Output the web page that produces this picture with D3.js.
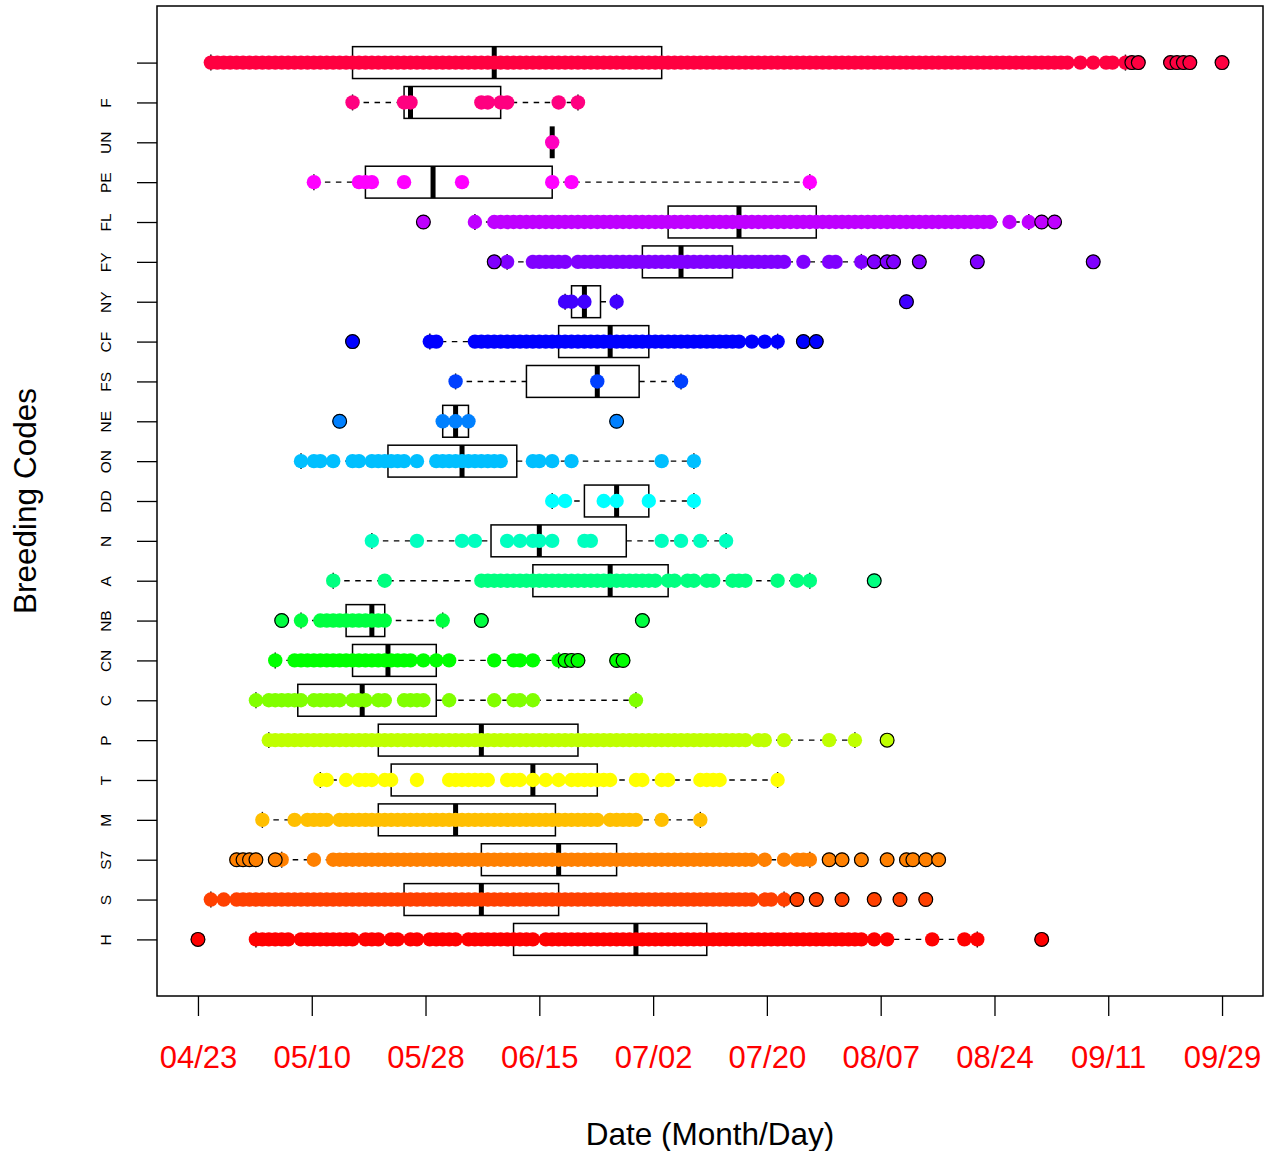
<!DOCTYPE html>
<html>
<head>
<meta charset="utf-8">
<script src="https://cdn.jsdelivr.net/npm/d3@7"></script>
<style>
  body { margin: 0; background: #fff; }
  svg text { font-family: "Liberation Sans", Arial, Helvetica, sans-serif; }
</style>
</head>
<body>
<svg id="chart" width="1276" height="1151"></svg>
<script>
// Breeding codes, bottom row first
const codes = ["H", "S", "S7", "M", "T", "P", "C", "CN", "NB", "A", "N", "DD", "ON", "NE", "FS", "CF", "NY", "FY", "FL", "PE", "UN", "F", ""]
const colors = ["#FF0000", "#FF4000", "#FF8000", "#FFBF00", "#FFFF00", "#BFFF00", "#80FF00", "#00FF00", "#00FF40", "#00FF80",
  "#00FFBF", "#00FFFF", "#00BFFF", "#0080FF", "#0040FF", "#0000FF", "#4000FF", "#8000FF", "#BF00FF", "#FF00FF",
  "#FF00BF", "#FF0080", "#FF0040"]

// boxplot stats (day of year)
const whiskLow  = [122, 115, 126, 123, 132, 124, 122, 125, 129, 134, 140, 168, 129, 151, 153, 149, 170, 161, 156, 131, 168, 137, 115]
const q1        = [162, 145, 157, 141, 143, 141, 128.5, 137, 136, 165, 158.5, 173, 142.5, 151, 164, 169, 171, 182, 186, 139, 168, 145, 137]
const medians   = [181, 157, 169, 153, 165, 157, 138.5, 142.5, 140, 177, 166, 178, 154, 153, 175, 177, 173, 188, 197, 149.5, 168, 146, 159]
const q3        = [192, 169, 178, 168.5, 175, 172, 150, 150, 142, 186, 179.5, 183, 162.5, 155, 181.5, 183, 175.5, 196, 209, 168, 168, 160, 185]
const whiskHigh = [234, 204, 208, 191, 203, 215, 181, 169, 151, 208, 195, 190, 190, 155, 188, 203, 178, 216, 242, 208, 168, 172, 257]

const outliers = [
  [113, 244],
  [206, 209, 213, 218, 222, 226],
  [119, 120, 121, 122, 125, 211, 213, 216, 220, 223, 224, 226, 228],
  [],
  [],
  [220],
  [],
  [170, 171, 172, 178, 179],
  [126, 157, 182],
  [218],
  [],
  [],
  [],
  [135, 178],
  [],
  [137, 207, 209],
  [223],
  [159, 218, 220, 221, 225, 234, 252],
  [148, 244, 246],
  [],
  [],
  [],
  [258, 259, 264, 265, 266, 267, 272]
]

// days on which each code was observed
const observedDays = [
  // H
  [113, 122, 123, 124, 125, 126, 127, 129, 130, 131, 132, 133, 134, 135, 136, 137, 139, 140, 141, 143, 144, 146, 147, 149, 150,
   151, 152, 153, 155, 156, 157, 158, 159, 160, 161, 162, 163, 164, 165, 167, 168, 169, 170, 171, 172, 173, 174, 175, 176, 177,
   178, 179, 180, 181, 182, 183, 184, 185, 186, 187, 188, 189, 190, 191, 192, 193, 194, 195, 196, 197, 198, 199, 200, 201, 202,
   203, 204, 205, 206, 207, 208, 209, 210, 211, 212, 213, 214, 215, 216, 218, 220, 227, 232, 234, 244],
  // S
  [115, 117, 119, 120, 121, 122, 123, 124, 125, 126, 127, 128, 129, 130, 131, 132, 133, 134, 135, 136, 137, 138, 139, 140, 141,
   142, 143, 144, 145, 146, 147, 148, 149, 150, 151, 152, 153, 154, 155, 156, 157, 158, 159, 160, 161, 162, 163, 164, 165, 166,
   167, 168, 169, 170, 171, 172, 173, 174, 175, 176, 177, 178, 179, 180, 181, 182, 183, 184, 185, 186, 187, 188, 189, 190, 191,
   192, 193, 194, 195, 196, 197, 198, 199, 201, 202, 204, 206, 209, 213, 218, 222, 226],
  // S7
  [119, 120, 121, 122, 125, 126, 131, 134, 135, 136, 137, 138, 139, 140, 141, 142, 143, 144, 145, 146, 147, 148, 149, 150, 151,
   152, 153, 154, 155, 156, 157, 158, 159, 160, 161, 162, 163, 164, 165, 166, 167, 168, 169, 170, 171, 172, 173, 174, 175, 176,
   177, 178, 179, 180, 181, 182, 183, 184, 185, 186, 187, 188, 189, 190, 191, 192, 193, 194, 195, 196, 197, 198, 199, 201, 204,
   206, 207, 208, 211, 213, 216, 220, 223, 224, 226, 228],
  // M
  [123, 128, 130, 131, 132, 133, 135, 136, 137, 138, 139, 140, 141, 142, 143, 144, 145, 146, 147, 148, 149, 150, 151, 152, 153,
   154, 155, 156, 157, 158, 159, 160, 161, 162, 163, 164, 165, 166, 167, 168, 169, 170, 171, 172, 173, 174, 175, 177, 178, 179,
   180, 181, 185, 191],
  // T
  [132, 133, 136, 138, 139, 140, 142, 143, 147, 152, 153, 154, 155, 156, 157, 158, 161, 162, 163, 165, 167, 169, 171, 172, 173,
   174, 175, 176, 177, 181, 182, 185, 186, 191, 192, 193, 194, 203],
  // P
  [124, 125, 126, 127, 128, 129, 130, 131, 132, 133, 134, 135, 136, 137, 138, 139, 140, 141, 142, 143, 144, 145, 146, 147, 148,
   149, 150, 151, 152, 153, 154, 155, 156, 157, 158, 159, 160, 161, 162, 163, 164, 165, 166, 167, 168, 169, 170, 171, 172, 173,
   174, 175, 176, 177, 178, 179, 180, 181, 182, 183, 184, 185, 186, 187, 188, 189, 190, 191, 192, 193, 194, 195, 196, 197, 198,
   200, 201, 204, 211, 215, 220],
  // C
  [122, 124, 125, 126, 127, 128, 129, 131, 132, 133, 134, 135, 137, 138, 139, 141, 142, 145, 146, 147, 148, 152, 159, 162, 163,
   165, 181],
  // CN
  [125, 128, 129, 130, 131, 132, 133, 134, 135, 136, 137, 138, 139, 140, 141, 142, 143, 144, 145, 146, 148, 150, 152, 159, 162,
   163, 165, 169, 170, 171, 172, 178, 179],
  // NB
  [126, 129, 132, 133, 134, 135, 136, 137, 138, 139, 140, 141, 142, 151, 157, 182],
  // A
  [134, 142, 157, 158, 159, 160, 161, 162, 163, 164, 165, 166, 167, 168, 169, 170, 171, 172, 173, 174, 175, 176, 177, 178, 179,
   180, 181, 182, 183, 184, 186, 187, 189, 190, 192, 193, 196, 197, 198, 203, 206, 208, 218],
  // N
  [140, 147, 154, 156, 161, 163, 165, 166, 168, 173, 174, 185, 188, 191, 195],
  // DD
  [168, 170, 176, 178, 183, 190],
  // ON
  [129, 131, 132, 134, 137, 138, 140, 141, 142, 143, 144, 145, 147, 150, 151, 152, 153, 154, 155, 156, 157, 158, 159, 160, 165,
   166, 168, 171, 185, 190],
  // NE
  [135, 151, 153, 155, 178],
  // FS
  [153, 175, 188],
  // CF
  [137, 149, 150, 156, 157, 158, 159, 160, 161, 162, 163, 164, 165, 166, 167, 168, 169, 170, 171, 172, 173, 174, 175, 176, 177,
   178, 179, 180, 181, 182, 183, 184, 185, 186, 187, 188, 189, 190, 191, 192, 193, 194, 195, 196, 197, 199, 201, 203, 207, 209],
  // NY
  [170, 171, 173, 178, 223],
  // FY
  [159, 161, 165, 166, 167, 168, 169, 170, 172, 173, 174, 175, 176, 177, 178, 179, 180, 181, 182, 183, 184, 185, 186, 187, 188,
   189, 190, 191, 192, 193, 194, 195, 196, 197, 198, 199, 200, 201, 202, 203, 204, 207, 211, 212, 216, 218, 220, 221, 225, 234, 252],
  // FL
  [148, 156, 159, 160, 161, 162, 163, 164, 165, 166, 167, 168, 169, 170, 171, 172, 173, 174, 175, 176, 177, 178, 179, 180, 181,
   182, 183, 184, 185, 186, 187, 188, 189, 190, 191, 192, 193, 194, 195, 196, 197, 198, 199, 200, 201, 202, 203, 204, 205, 206,
   207, 208, 209, 210, 211, 212, 213, 214, 215, 216, 217, 218, 219, 220, 221, 222, 223, 224, 225, 226, 227, 228, 229, 230, 231,
   232, 233, 234, 235, 236, 239, 242, 244, 246],
  // PE
  [131, 138, 139, 140, 145, 154, 168, 171, 208],
  // UN
  [168],
  // F
  [137, 145, 146, 157, 158, 160, 161, 169, 172],
  // (blank)
  [115, 116, 117, 118, 119, 120, 121, 122, 123, 124, 125, 126, 127, 128, 129, 130, 131, 132, 133, 134, 135, 136, 137, 138,
   139, 140, 141, 142, 143, 144, 145, 146, 147, 148, 149, 150, 151, 152, 153, 154, 155, 156, 157, 158, 159, 160, 161, 162, 163,
   164, 165, 166, 167, 168, 169, 170, 171, 172, 173, 174, 175, 176, 177, 178, 179, 180, 181, 182, 183, 184, 185, 186, 187, 188,
   189, 190, 191, 192, 193, 194, 195, 196, 197, 198, 199, 200, 201, 202, 203, 204, 205, 206, 207, 208, 209, 210, 211, 212, 213,
   214, 215, 216, 217, 218, 219, 220, 221, 222, 223, 224, 225, 226, 227, 228, 229, 230, 231, 232, 233, 234, 235, 236, 237, 238,
   239, 240, 241, 242, 243, 244, 245, 246, 247, 248, 250, 252, 254, 255, 257, 258, 259, 264, 265, 266, 267, 272]
]

// x axis ticks (day of year) and their labels
const tickDays = [113, 130.67, 148.33, 166, 183.67, 201.33, 219, 236.67, 254.33, 272]
const tickLabels = ["04/23", "05/10", "05/28", "06/15", "07/02", "07/20", "08/07", "08/24", "09/11", "09/29"]


// Dimensions
let margin = { top: 6, right: 13, bottom: 155, left: 157 },
    width = 1276 - margin.left - margin.right,
    height = 1151 - margin.top - margin.bottom

let svg = d3.select("#chart")
    .append("g")
    .attr("transform", "translate(" + margin.left + "," + margin.top + ")")

// Echelles (R style: 4% padding)
const allDays = observedDays.flat()
const [dmin, dmax] = d3.extent(allDays)
const pad = (dmax - dmin) * 0.04
let x = d3.scaleLinear()
    .domain([dmin - pad, dmax + pad])
    .range([0, width])

const n = codes.length
let y = d3.scaleLinear()
    .domain([0.5 - n * 0.04, n + 0.5 + n * 0.04])
    .range([height, 0])

const boxHalf = y(0) - y(0.4)
const stapleHalf = boxHalf / 2

const rows = codes.map((c, i) => ({
    code: c, pos: i + 1, color: colors[i],
    lo: whiskLow[i], q1: q1[i], med: medians[i], q3: q3[i], hi: whiskHigh[i],
    days: observedDays[i], out: outliers[i]
}))

// Whiskers
let g = svg.append("g")
g.selectAll(".whisk")
    .data(rows.flatMap(r => [[r.lo, r.q1, r.pos], [r.q3, r.hi, r.pos]]))
    .join("line")
    .attr("x1", d => x(d[0])).attr("x2", d => x(d[1]))
    .attr("y1", d => y(d[2])).attr("y2", d => y(d[2]))
    .attr("stroke", "black").attr("stroke-width", 1.4)
    .attr("stroke-dasharray", "5.5,5.5")

// Staples
g.selectAll(".staple")
    .data(rows.flatMap(r => [[r.lo, r.pos], [r.hi, r.pos]]))
    .join("line")
    .attr("x1", d => x(d[0])).attr("x2", d => x(d[0]))
    .attr("y1", d => y(d[1]) - stapleHalf).attr("y2", d => y(d[1]) + stapleHalf)
    .attr("stroke", "black").attr("stroke-width", 1.4)

// Boxes
g.selectAll(".box")
    .data(rows)
    .join("rect")
    .attr("x", d => x(d.q1))
    .attr("width", d => x(d.q3) - x(d.q1))
    .attr("y", d => y(d.pos) - boxHalf)
    .attr("height", boxHalf * 2)
    .attr("fill", "none")
    .attr("stroke", "black").attr("stroke-width", 1.5)

// Medians
g.selectAll(".median")
    .data(rows)
    .join("line")
    .attr("x1", d => x(d.med)).attr("x2", d => x(d.med))
    .attr("y1", d => y(d.pos) - boxHalf).attr("y2", d => y(d.pos) + boxHalf)
    .attr("stroke", "black").attr("stroke-width", 5)

// Ajouter les points
svg.append("g")
    .selectAll("circle")
    .data(rows.flatMap(r => r.days.map(v => ({ v: v, pos: r.pos, color: r.color }))))
    .join("circle")
    .attr("cx", d => x(d.v))
    .attr("cy", d => y(d.pos))
    .attr("r", 7.2)
    .attr("fill", d => d.color)

// Outliers
svg.append("g")
    .selectAll("circle")
    .data(rows.flatMap(r => r.out.map(v => ({ v: v, pos: r.pos, color: r.color }))))
    .join("circle")
    .attr("cx", d => x(d.v))
    .attr("cy", d => y(d.pos))
    .attr("r", 6.9)
    .attr("fill", d => d.color)
    .attr("stroke", "black")
    .attr("stroke-width", 1.2)

// Cadre
svg.append("rect")
    .attr("width", width).attr("height", height)
    .attr("fill", "none").attr("stroke", "black").attr("stroke-width", 1.5)

// Add x axis
let xAxis = svg.append("g")
    .attr("transform", "translate(0," + height + ")")
    .call(d3.axisBottom(x).tickValues(tickDays).tickFormat((d, i) => tickLabels[i]).tickSize(20).tickSizeOuter(0))
xAxis.select(".domain").remove()
xAxis.selectAll(".tick line").attr("stroke-width", 1.3)
xAxis.selectAll(".tick text")
    .attr("y", 72).attr("dy", 0)
    .attr("fill", "red")
    .style("font-size", "31px")
    .style("font-family", "'Liberation Sans', Arial, sans-serif")

// Add y axis
let yAxis = svg.append("g")
    .call(d3.axisLeft(y).tickValues(d3.range(1, n + 1)).tickFormat(d => codes[d - 1]).tickSize(20).tickSizeOuter(0))
yAxis.select(".domain").remove()
yAxis.selectAll(".tick line").attr("stroke-width", 1.3)
yAxis.selectAll(".tick text")
    .attr("x", null).attr("dy", null)
    .attr("text-anchor", "middle")
    .attr("transform", "translate(-46,0) rotate(-90)")
    .attr("fill", "black")
    .style("font-size", "15.5px")
    .style("font-family", "'Liberation Sans', Arial, sans-serif")

// Titres des axes
svg.append("text")
    .attr("x", width / 2).attr("y", 1145 - margin.top)
    .attr("text-anchor", "middle")
    .style("font-size", "31.5px")
    .text("Date (Month/Day)")

svg.append("text")
    .attr("transform", "translate(" + (36 - margin.left) + "," + (height / 2) + ") rotate(-90)")
    .attr("text-anchor", "middle")
    .style("font-size", "31.5px")
    .text("Breeding Codes")
</script>
</body>
</html>
